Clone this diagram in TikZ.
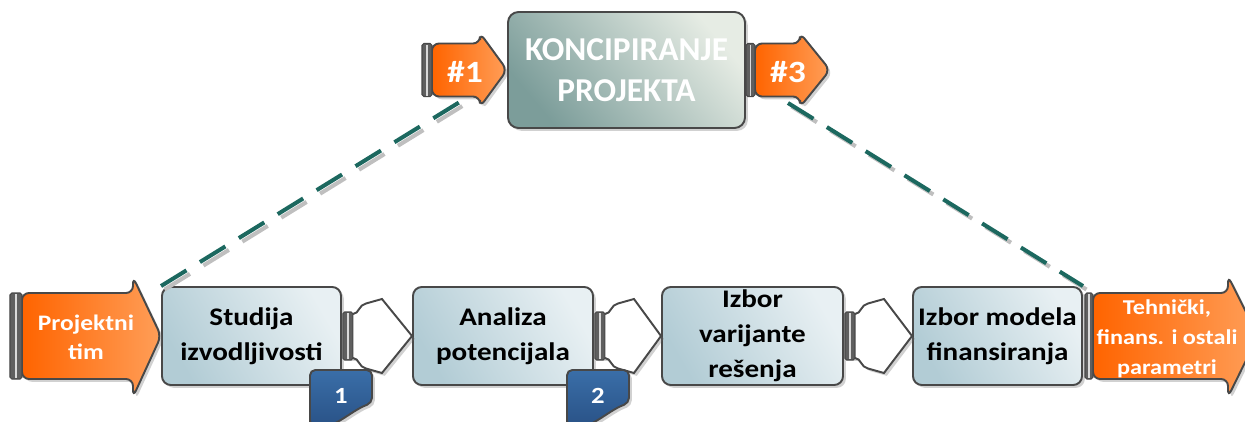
\documentclass[tikz,border=0pt]{standalone}
\usepackage{fontspec}
\setmainfont{Carlito}[FakeStretch=1.15]
\newfontfamily\headfont{Carlito}
\usepackage{tikz}
\usetikzlibrary{calc,shadows}
\definecolor{kdark}{RGB}{124,157,154}
\definecolor{klight}{RGB}{230,236,228}
\definecolor{sdark}{RGB}{178,204,213}
\definecolor{slight}{RGB}{232,240,243}
\definecolor{orgdark}{RGB}{255,100,0}
\definecolor{orglight}{RGB}{255,158,88}
\definecolor{badgeblue}{RGB}{58,110,168}
\definecolor{badgedark}{RGB}{40,80,132}
\definecolor{dashteal}{RGB}{28,104,95}
\definecolor{edgegray}{RGB}{72,72,72}
\definecolor{bargray}{RGB}{95,95,95}

\begin{document}
\begin{tikzpicture}[
  softshadow/.style={drop shadow={shadow xshift=1.6pt, shadow yshift=-1.6pt, opacity=0.3, fill=black!60}},
  stepbox/.style={draw=edgegray, line width=1.1pt, rounded corners=5pt, bottom color=sdark, top color=slight,
    shading angle=-60, minimum height=1.96cm, inner sep=0pt, align=center, text=black,
    font=\bfseries\fontsize{14.4}{19.8}\selectfont, softshadow},
  topbox/.style={draw=edgegray, line width=1.1pt, rounded corners=6pt, bottom color=kdark, top color=klight,
    shading angle=-50, minimum width=4.74cm, minimum height=2.32cm, inner sep=0pt, align=center, text=white,
    font=\headfont\bfseries\fontsize{19}{23}\selectfont, softshadow},
  orgarrow/.style={draw=edgegray, line width=1.1pt, rounded corners=4pt, left color=orgdark, right color=orglight, softshadow},
  linkarrow/.style={draw=edgegray, line width=1.1pt, fill=white, softshadow},
  capbar/.style={draw=edgegray, fill=bargray, line width=0.6pt, rounded corners=1pt},
  badge/.style={draw=edgegray, line width=1.1pt, rounded corners=3pt, top color=badgeblue, bottom color=badgedark, softshadow},
  whitetext/.style={text=white, align=center, inner sep=0pt, font=\bfseries\fontsize{12.6}{16.4}\selectfont},
  dashline/.style={dashteal, line width=2.3pt, dash pattern=on 17pt off 9pt},
  dashshadow/.style={black!25, line width=2.3pt, dash pattern=on 17pt off 9pt}
]
  \useasboundingbox (0,0) rectangle (24.9,8.42);
  \clip (0,0) rectangle (24.9,8.42);

  % Main concept box
  \node[topbox] (konc) at (12.53,7.02) {KONCIPIRANJE\\PROJEKTA};

  % Bottom row of steps
  \node[stepbox, minimum width=3.58cm] (s1) at (5.03,1.70) {Studija\\izvodljivosti};
  \node[stepbox, minimum width=3.60cm] (s2) at (10.06,1.70) {Analiza\\potencijala};
  \node[stepbox, minimum width=3.62cm] (s3) at (15.05,1.70) {Izbor\\varijante\\rešenja};
  \node[stepbox, minimum width=3.38cm] (s4) at (19.95,1.70) {Izbor modela\\finansiranja};

  % Dashed links to the concept
  \coordinate (d1) at (9.26,6.42);
  \coordinate (d3) at (15.76,6.36);
  \draw[dashshadow] ($(s1.north west)+(0.07,-0.07)$) -- ($(d1)+(0.07,-0.07)$);
  \draw[dashshadow] ($(d3)+(0.07,-0.07)$) -- ($(s4.north east)+(0.07,-0.07)$);
  \draw[dashline] (s1.north west) -- (d1);
  \draw[dashline] (d3) -- (s4.north east);

  % White arrows between steps
  \foreach \a/\b in {s1/s2, s2/s3, s3/s4} {
    \draw[linkarrow] ($(\a.east)+(0.12,0.44)$) -- ($(\a.east)+(0.22,0.44)$)
      .. controls ($(\a.east)+(0.34,0.44)$) and ($(\a.east)+(0.34,0.63)$) .. ($(\a.east)+(0.48,0.65)$)
      -- ($(\a.east)+(0.8,0.74)$) -- (\b.west) -- ($(\a.east)+(0.8,-0.74)$) -- ($(\a.east)+(0.48,-0.65)$)
      .. controls ($(\a.east)+(0.34,-0.63)$) and ($(\a.east)+(0.34,-0.44)$) .. ($(\a.east)+(0.22,-0.44)$)
      -- ($(\a.east)+(0.12,-0.44)$) -- cycle;
    \draw[capbar] ($(\a.east)+(0.02,-0.48)$) rectangle ($(\a.east)+(0.22,0.48)$);
    \draw[white!70!gray, line width=0.8pt] ($(\a.east)+(0.12,-0.46)$) -- ($(\a.east)+(0.12,0.46)$);
  }

  % Orange input and output arrows
  \draw[orgarrow] (0.44,2.56) -- (2.66,2.56) -- (2.66,2.88) -- (s1.west) -- (2.66,0.48) -- (2.66,0.84) -- (0.44,0.84) -- cycle;
  \draw[orgarrow] (21.86,2.56) -- (24.56,2.56) -- (24.56,2.90) -- (25.16,1.70) -- (24.56,0.48) -- (24.56,0.84) -- (21.86,0.84) -- cycle;
  \draw[orgarrow] (8.64,7.55) -- (9.6,7.55) -- (9.6,7.76) -- (konc.west) -- (9.6,6.28) -- (9.6,6.49) -- (8.64,6.49) -- cycle;
  \draw[orgarrow] (15.1,7.55) -- (16.0,7.55) -- (16.0,7.76) -- (16.6,7.02) -- (16.0,6.28) -- (16.0,6.49) -- (15.1,6.49) -- cycle;
  \foreach \xa/\xb/\yc/\h in {0.2/0.44/1.70/0.86, 21.7/21.86/1.70/0.86, 8.44/8.64/7.02/0.53, 14.92/15.1/7.02/0.53} {
    \draw[capbar] (\xa,\yc-\h) rectangle (\xb,\yc+\h);
    \draw[white!70!gray, line width=0.8pt] ({(\xa+\xb)/2},\yc-\h+0.02) -- ({(\xa+\xb)/2},\yc+\h-0.02);
  }
  \node[whitetext] (tim) at (1.72,1.68) {Projektni\\tim};
  \node[whitetext, font=\bfseries\fontsize{12}{17}\selectfont] (par) at (23.34,1.64) {Tehnički,\\finans. i ostali\\parametri};
  \node[whitetext, font=\bfseries\fontsize{17.6}{20}\selectfont] (h1) at (9.30,6.98) {\#1};
  \node[whitetext, font=\bfseries\fontsize{17.6}{20}\selectfont] (h3) at (15.76,6.98) {\#3};

  % Numbered badges
  \foreach \n/\bx in {1/6.2, 2/11.34} {
    \draw[badge] (\bx,-0.1) -- (\bx,1.02) -- (\bx+1.24,1.02) -- (\bx+1.24,0.36)
      .. controls (\bx+0.8,0.2) and (\bx+0.45,-0.2) .. (\bx,-0.1) -- cycle;
    \node[whitetext, font=\bfseries\fontsize{13.2}{16}\selectfont] (b\n) at (\bx+0.62,0.51) {\n};
  }
\end{tikzpicture}
\end{document}
